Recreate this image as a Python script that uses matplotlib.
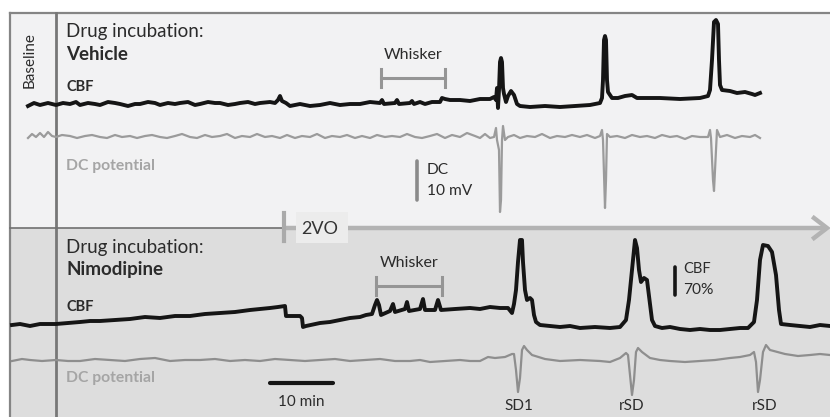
import matplotlib
matplotlib.use("Agg")
import matplotlib.pyplot as plt
from matplotlib.patches import Rectangle

plt.rcParams['font.family'] = ['Lato', 'DejaVu Sans']

# ---- trace data (x, y) in panel coordinates (y grows downward) ----
veh_cbf_x = [28, 34, 40, 48, 56, 63, 70, 76, 80, 88, 95, 100, 108, 115, 120, 128, 135, 140, 148, 155, 160, 168, 175, 180, 188, 195, 200, 208, 215, 220, 228, 235, 240, 248, 255, 260, 270, 275, 278, 280, 282, 286, 290, 300, 310, 320, 330, 340, 350, 360, 370, 380, 382, 384, 395, 397, 399, 410, 412, 414, 420, 425, 432, 440, 442, 445, 450, 460, 470, 480, 490, 494, 496, 497, 498, 499, 500, 501, 502, 503, 504, 506, 508, 511, 514, 517, 520, 530, 545, 560, 575, 590, 600, 602, 603, 604, 605, 606, 607, 608, 612, 618, 625, 632, 637, 645, 660, 680, 700, 708, 710, 712, 714, 716, 718, 719, 720, 722, 730, 737, 745, 752, 755, 760]
veh_cbf_y = [106, 103, 105, 103, 105, 103, 104, 102, 105, 103, 104, 105, 102, 103, 104, 106, 104, 104, 102, 103, 105, 103, 104, 103, 102, 105, 104, 102, 103, 103, 105, 104, 103, 102, 104, 103, 102, 103, 100, 96, 101, 103, 106, 104, 106, 105, 103, 105, 104, 104, 102, 103, 100, 104, 103, 100, 104, 103, 101, 104, 102, 104, 102, 102, 98, 99, 100, 100, 101, 99, 99, 97, 100, 88, 108, 90, 62, 58, 62, 88, 94, 102, 96, 91, 95, 104, 106, 107, 106, 107, 106, 105, 103, 98, 80, 40, 36, 40, 80, 92, 98, 98, 96, 95, 98, 98, 98, 99, 98, 96, 90, 60, 22, 20, 24, 60, 85, 90, 91, 93, 92, 94, 95, 93]

veh_dc_x = [28, 32, 36, 40, 44, 48, 52, 56, 62, 70, 77, 85, 92, 100, 107, 115, 122, 130, 137, 145, 152, 160, 167, 175, 182, 190, 197, 205, 212, 220, 227, 235, 242, 250, 257, 265, 272, 280, 287, 295, 302, 310, 317, 325, 332, 340, 347, 355, 362, 370, 377, 385, 392, 400, 407, 415, 422, 430, 437, 445, 452, 460, 467, 475, 480, 485, 490, 494, 496, 497, 499, 500, 501, 502, 503, 505, 508, 514, 520, 527, 535, 542, 550, 557, 565, 572, 580, 587, 595, 600, 602, 603, 605, 606, 607, 610, 617, 625, 632, 640, 647, 655, 662, 670, 677, 685, 692, 700, 708, 710, 711, 713, 714, 716, 717, 720, 727, 735, 742, 750, 755, 760]
veh_dc_y = [138, 134, 137, 133, 137, 132, 136, 137, 135, 136, 138, 136, 135, 137, 138, 135, 137, 136, 138, 136, 135, 137, 138, 136, 134, 137, 138, 135, 137, 136, 134, 138, 136, 137, 134, 137, 136, 138, 135, 138, 136, 137, 134, 138, 136, 137, 135, 138, 136, 138, 135, 137, 136, 137, 134, 137, 138, 136, 134, 138, 135, 137, 133, 136, 138, 134, 138, 137, 128, 140, 150, 212, 200, 140, 126, 140, 137, 135, 138, 136, 137, 134, 138, 136, 137, 135, 137, 135, 138, 136, 130, 140, 208, 180, 134, 137, 136, 138, 135, 137, 136, 138, 135, 137, 136, 139, 136, 137, 137, 130, 138, 180, 191, 150, 130, 137, 135, 138, 136, 137, 135, 138]

nim_cbf_x = [12, 20, 30, 40, 56, 68, 80, 90, 100, 115, 130, 145, 160, 175, 190, 205, 220, 235, 250, 260, 270, 278, 285, 286, 300, 302, 303, 306, 320, 330, 340, 350, 360, 366, 372, 375, 377, 379, 381, 390, 393, 395, 405, 407, 409, 420, 423, 425, 435, 438, 441, 455, 470, 480, 490, 500, 508, 512, 514, 516, 518, 520, 522, 523, 525, 527, 530, 532, 534, 536, 540, 550, 560, 570, 580, 595, 610, 620, 626, 629, 632, 635, 637, 639, 641, 644, 647, 649, 652, 655, 662, 670, 680, 690, 700, 710, 720, 730, 740, 748, 754, 757, 760, 763, 768, 772, 776, 779, 781, 790, 800, 810, 820, 830]
nim_cbf_y = [325, 324, 326, 324, 324, 323, 322, 321, 321, 320, 319, 317, 318, 316, 316, 314, 313, 312, 310, 309, 308, 307, 306, 316, 316, 318, 327, 326, 323, 322, 320, 318, 317, 315, 314, 305, 300, 305, 315, 311, 304, 312, 309, 302, 311, 309, 299, 310, 310, 300, 310, 309, 308, 309, 307, 308, 308, 313, 304, 290, 262, 240, 240, 262, 290, 300, 298, 300, 315, 322, 325, 326, 327, 326, 328, 327, 328, 327, 320, 300, 270, 240, 248, 270, 282, 278, 280, 296, 320, 326, 328, 327, 329, 330, 329, 330, 330, 329, 328, 328, 322, 300, 260, 245, 246, 252, 275, 310, 324, 325, 326, 327, 325, 326]

nim_dc_x = [12, 22, 30, 42, 56, 68, 80, 95, 110, 125, 140, 155, 170, 185, 200, 215, 230, 245, 260, 275, 290, 305, 320, 335, 350, 365, 380, 395, 410, 420, 430, 445, 460, 470, 480, 488, 495, 505, 512, 514, 516, 518, 520, 522, 524, 527, 532, 545, 560, 580, 600, 610, 620, 626, 628, 630, 632, 634, 636, 638, 642, 650, 660, 670, 685, 700, 715, 730, 740, 750, 754, 756, 758, 760, 763, 766, 770, 785, 798, 810, 820, 830]
nim_dc_y = [361, 359, 360, 361, 360, 361, 361, 359, 360, 361, 359, 358, 361, 360, 360, 359, 361, 360, 361, 359, 360, 361, 360, 359, 361, 360, 359, 361, 361, 360, 362, 361, 360, 361, 361, 357, 358, 357, 354, 354, 370, 392, 378, 350, 346, 350, 355, 359, 361, 360, 361, 362, 358, 353, 355, 375, 395, 380, 352, 348, 352, 358, 360, 361, 362, 361, 360, 358, 357, 355, 352, 362, 392, 380, 352, 345, 350, 354, 356, 355, 354, 355]

whisker_spans = [(381, 445), (376, 442)]
event_labels = ["SD1", "rSD", "rSD"]
event_label_x = [519, 632, 765]

fig = plt.figure(figsize=(8.3, 4.17), dpi=100)
ax = fig.add_axes([0, 0, 1, 1])
ax.set_xlim(0, 830)
ax.set_ylim(417, 0)
ax.axis('off')

# panels
ax.add_patch(Rectangle((10, 13), 820, 215, facecolor='#f2f2f3', edgecolor='none', zorder=0))
ax.add_patch(Rectangle((10, 228), 820, 190, facecolor='#dddddd', edgecolor='none', zorder=0))
frame_c = '#858585'
ax.plot([10, 830], [13, 13], color=frame_c, lw=1.6, zorder=1)
ax.plot([10, 10], [13, 417], color=frame_c, lw=1.6, zorder=1)
ax.plot([56, 56], [13, 417], color='#777777', lw=2.0, zorder=1)
ax.plot([10, 284], [228, 228], color='#707070', lw=1.2, zorder=1)

# 2VO arrow
ax.plot([284, 826], [228, 228], color='#b3b3b3', lw=3.2, zorder=2, solid_capstyle='butt')
ax.plot([814, 827, 814], [218, 228, 238], color='#b3b3b3', lw=3.2, zorder=2, solid_joinstyle='miter')
ax.plot([284, 284], [213, 241], color='#aaaaaa', lw=3.0, zorder=3)
ax.add_patch(Rectangle((296, 212), 52, 31, facecolor='#ececec', edgecolor='none', zorder=3))
ax.text(301, 229, "2VO", fontsize=13, color='#333333', va='center', ha='left', zorder=4)

# traces
ax.plot(veh_dc_x, veh_dc_y, color='#9b9b9b', lw=1.6, zorder=5)
ax.plot(veh_cbf_x, veh_cbf_y, color='#151515', lw=2.8, zorder=6, solid_joinstyle='round')
ax.plot(nim_dc_x, nim_dc_y, color='#8e8e8e', lw=1.6, zorder=5)
ax.plot(nim_cbf_x, nim_cbf_y, color='#151515', lw=2.8, zorder=6, solid_joinstyle='round')

# labels
txt_c = '#2b2b2b'
ax.text(30, 60, "Baseline", rotation=90, fontsize=11, color=txt_c, ha='center', va='center')
ax.text(66, 31, "Drug incubation:", fontsize=13.5, color=txt_c, va='center')
ax.text(66, 54, "Vehicle", fontsize=13.5, color=txt_c, va='center', fontweight='bold')
ax.text(66, 87, "CBF", fontsize=10.5, color=txt_c, va='center', fontweight='bold')
ax.text(66, 166, "DC potential", fontsize=11.3, color='#a5a5a5', va='center', fontweight='bold')

ax.text(66, 247, "Drug incubation:", fontsize=13.5, color=txt_c, va='center')
ax.text(66, 270, "Nimodipine", fontsize=13.5, color=txt_c, va='center', fontweight='bold')
ax.text(66, 307, "CBF", fontsize=10.5, color=txt_c, va='center', fontweight='bold')
ax.text(66, 378, "DC potential", fontsize=11.3, color='#a5a5a5', va='center', fontweight='bold')

# whisker brackets
wb_y = [78, 286]
wt_y = [55, 263]
for (x0, x1), yb, yt in zip(whisker_spans, wb_y, wt_y):
    ax.plot([x0, x1], [yb, yb], color='#959595', lw=2.2)
    ax.plot([x0, x0], [yb - 9, yb + 9], color='#959595', lw=2.2)
    ax.plot([x1, x1], [yb - 9, yb + 9], color='#959595', lw=2.2)
    ax.text((x0 + x1) / 2, yt, "Whisker", fontsize=11.5, color=txt_c, ha='center', va='center')

# scale bars
ax.plot([417, 417], [161, 200], color='#8a8a8a', lw=2.6, solid_capstyle='round')
ax.text(427, 170, "DC", fontsize=11.2, color=txt_c, va='center')
ax.text(427, 191, "10 mV", fontsize=11.2, color=txt_c, va='center')

ax.plot([675, 675], [267, 295], color='#151515', lw=2.6, solid_capstyle='round')
ax.text(683, 269, "CBF", fontsize=10.5, color=txt_c, va='center')
ax.text(683, 290, "70%", fontsize=11.2, color=txt_c, va='center')

ax.plot([270, 333], [383, 383], color='#151515', lw=3.0, solid_capstyle='round')
ax.text(301, 402, "10 min", fontsize=11, color=txt_c, ha='center', va='center')

for lab, lx in zip(event_labels, event_label_x):
    ax.text(lx, 406, lab, fontsize=11, color=txt_c, ha='center', va='center')

fig.savefig("out.png", dpi=100)
